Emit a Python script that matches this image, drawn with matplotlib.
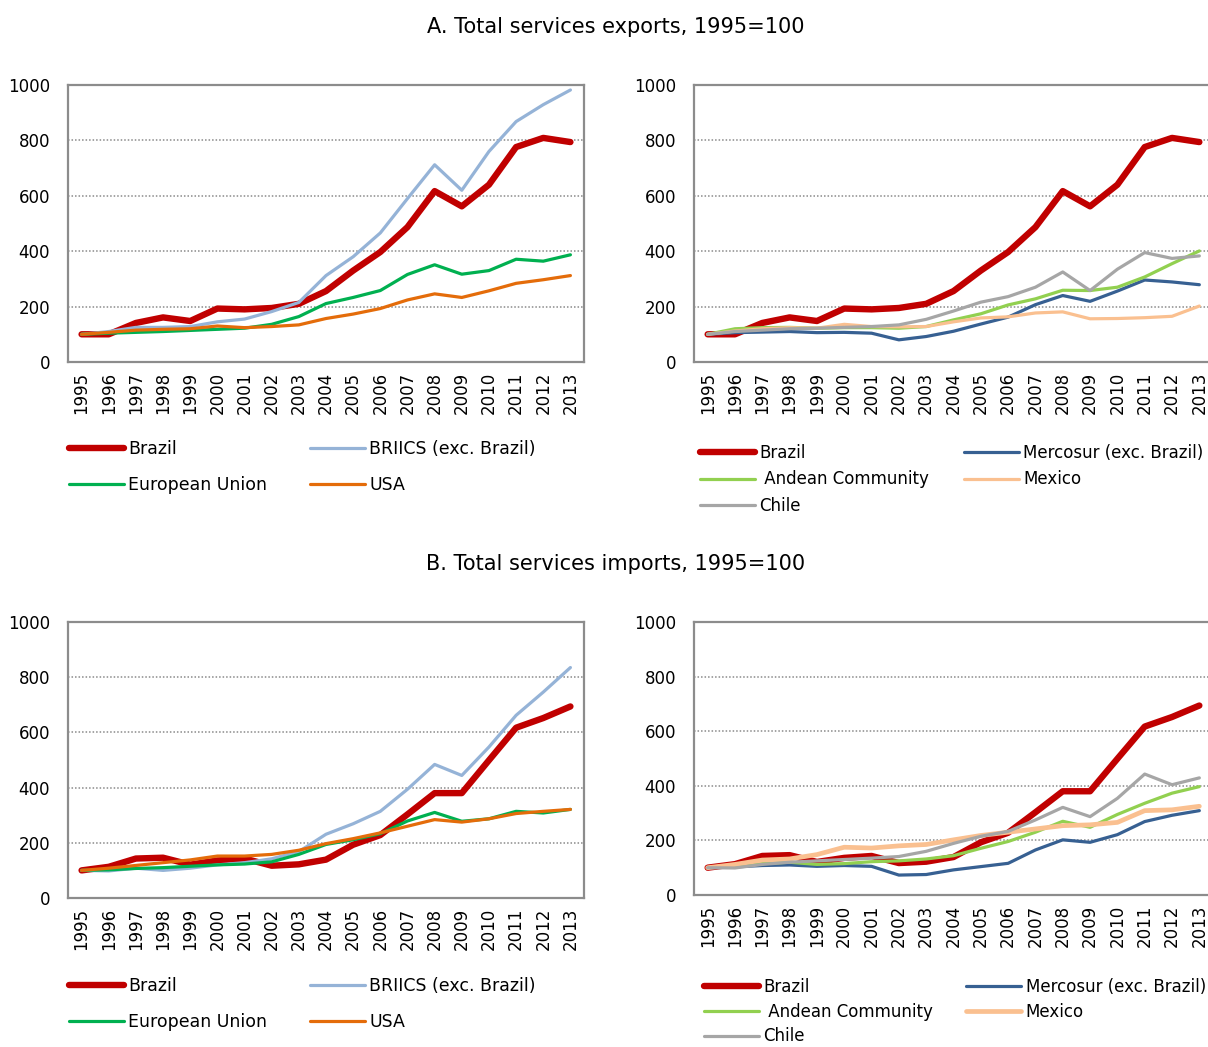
import matplotlib
matplotlib.use("Agg")
import matplotlib.pyplot as plt

years = list(range(1995, 2014))
year_labels = [str(y) for y in years]

# A. exports, 1995=100
exp_brazil = [100, 100, 141, 161, 148, 193, 190, 195, 210, 256, 330, 397, 487, 617, 562, 640, 776, 809, 794]
exp_briics = [100, 110, 125, 125, 128, 145, 155, 182, 215, 312, 380, 466, 590, 712, 620, 760, 868, 929, 982]
exp_eu = [100, 104, 107, 110, 114, 118, 122, 136, 164, 211, 233, 258, 316, 351, 317, 330, 371, 364, 387]
exp_usa = [100, 107, 115, 118, 120, 130, 124, 128, 134, 157, 173, 193, 224, 246, 233, 257, 284, 297, 312]

exp_mercosur = [100, 106, 108, 110, 106, 107, 104, 80, 92, 111, 137, 162, 207, 240, 219, 256, 296, 289, 279]
exp_andean = [100, 120, 124, 125, 122, 124, 124, 122, 128, 152, 174, 206, 228, 259, 258, 270, 307, 355, 401]
exp_mexico = [100, 112, 120, 124, 122, 136, 128, 127, 128, 145, 159, 163, 177, 181, 156, 157, 160, 165, 202]
exp_chile = [100, 110, 115, 120, 122, 125, 128, 134, 154, 184, 216, 236, 270, 325, 258, 335, 395, 374, 383]

# B. imports, 1995=100
imp_brazil = [100, 113, 143, 146, 121, 136, 143, 117, 122, 139, 193, 228, 303, 380, 380, 499, 617, 652, 694]
imp_briics = [100, 98, 108, 100, 108, 120, 128, 142, 168, 231, 269, 314, 394, 484, 444, 547, 662, 746, 835]
imp_eu = [100, 102, 107, 110, 115, 120, 123, 131, 158, 194, 211, 233, 279, 310, 278, 287, 314, 308, 321]
imp_usa = [100, 108, 118, 128, 138, 152, 152, 158, 173, 197, 215, 236, 260, 284, 275, 287, 306, 314, 321]

imp_mercosur = [100, 103, 108, 110, 105, 108, 105, 73, 75, 92, 104, 116, 165, 202, 193, 221, 269, 292, 309]
imp_andean = [100, 108, 115, 120, 112, 115, 122, 125, 132, 144, 171, 196, 230, 270, 248, 295, 336, 373, 397]
imp_mexico = [100, 112, 128, 132, 148, 175, 172, 180, 185, 202, 218, 230, 242, 254, 257, 266, 309, 312, 325]
imp_chile = [100, 99, 112, 120, 125, 130, 135, 141, 160, 189, 215, 233, 275, 321, 287, 354, 443, 404, 429]

C_BRAZIL = "#C00000"
C_BRIICS = "#95B3D7"
C_EU = "#00B050"
C_USA = "#E46C0A"
C_MERCOSUR = "#376092"
C_ANDEAN = "#92D050"
C_MEXICO = "#FAC090"
C_CHILE = "#A6A6A6"

W, H = 1208, 1047
fig = plt.figure(figsize=(W / 100, H / 100), dpi=100)
plt.rcParams["font.family"] = ["DejaVu Sans"]


def box(x0, x1, y0, y1):
    return [x0 / W, 1 - y1 / H, (x1 - x0) / W, (y1 - y0) / H]


def style_axes(ax):
    x = range(len(years))
    ax.set_xlim(-0.5, len(years) - 0.5)
    ax.set_ylim(0, 1000)
    ax.set_yticks(range(0, 1001, 200))
    ax.set_xticks(list(x))
    ax.set_xticklabels(year_labels, rotation=90)
    ax.tick_params(axis="both", length=0, labelsize=12)
    ax.tick_params(axis="y", pad=13)
    ax.tick_params(axis="x", pad=7)
    for y in range(200, 1000, 200):
        ax.axhline(y, color="#8a8a8a", lw=1.1, ls=(0, (1, 1.3)), zorder=0)
    for s in ax.spines.values():
        s.set_color("#8c8c8c")
        s.set_linewidth(1.6)


def draw(ax, series):
    handles = {}
    for label, vals, color, lw in series:
        (h,) = ax.plot(range(len(years)), vals, color=color, lw=lw,
                       solid_capstyle="round", solid_joinstyle="round", label=label)
        handles[label] = h
    return handles


LW_B = 4.6
LW = 2.3

ax1 = fig.add_axes(box(68, 584, 85, 362))
h1 = draw(ax1, [("Brazil", exp_brazil, C_BRAZIL, LW_B),
                ("BRIICS (exc. Brazil)", exp_briics, C_BRIICS, LW),
                ("European Union", exp_eu, C_EU, LW),
                ("USA", exp_usa, C_USA, LW)])
style_axes(ax1)

ax2 = fig.add_axes(box(694, 1213, 85, 362))
h2 = draw(ax2, [("Brazil", exp_brazil, C_BRAZIL, LW_B),
                ("Mercosur (exc. Brazil)", exp_mercosur, C_MERCOSUR, LW),
                (" Andean Community", exp_andean, C_ANDEAN, LW),
                ("Mexico", exp_mexico, C_MEXICO, LW),
                ("Chile", exp_chile, C_CHILE, LW)])
style_axes(ax2)

ax3 = fig.add_axes(box(68, 584, 622, 898))
h3 = draw(ax3, [("Brazil", imp_brazil, C_BRAZIL, LW_B),
                ("BRIICS (exc. Brazil)", imp_briics, C_BRIICS, LW),
                ("European Union", imp_eu, C_EU, LW),
                ("USA", imp_usa, C_USA, LW)])
style_axes(ax3)

ax4 = fig.add_axes(box(694, 1213, 622, 895))
h4 = draw(ax4, [("Brazil", imp_brazil, C_BRAZIL, LW_B),
                ("Mercosur (exc. Brazil)", imp_mercosur, C_MERCOSUR, LW),
                (" Andean Community", imp_andean, C_ANDEAN, LW),
                ("Mexico", imp_mexico, C_MEXICO, 3.4),
                ("Chile", imp_chile, C_CHILE, LW)])
style_axes(ax4)

fig.text(616 / W, 1 - 27 / H, "A. Total services exports, 1995=100", ha="center", va="center", fontsize=15)
fig.text(616 / W, 1 - 564 / H, "B. Total services imports, 1995=100", ha="center", va="center", fontsize=15)


def add_legend(handles, order, x, y, size, hlen, spacing, colspacing):
    hs = [handles[k] for k in order]
    fig.legend(hs, order, loc="upper left", bbox_to_anchor=(x / W, 1 - y / H),
               ncol=2, frameon=False, fontsize=size, handlelength=hlen,
               handletextpad=0.25, borderpad=0, borderaxespad=0,
               labelspacing=spacing, columnspacing=colspacing)


left_order = ["Brazil", "European Union", "BRIICS (exc. Brazil)", "USA"]
right_order = ["Brazil", " Andean Community", "Chile", "Mercosur (exc. Brazil)", "Mexico"]

add_legend(h1, left_order, 69, 440, 12.5, 3.16, 1.05, 2.47)
add_legend(h2, right_order, 700, 444, 12, 3.3, 0.5, 2.1)
add_legend(h3, left_order, 69, 977, 12.5, 3.16, 1.05, 2.47)
add_legend(h4, right_order, 704, 978, 12, 3.3, 0.4, 2.0)

fig.savefig("out.png", dpi=100)
